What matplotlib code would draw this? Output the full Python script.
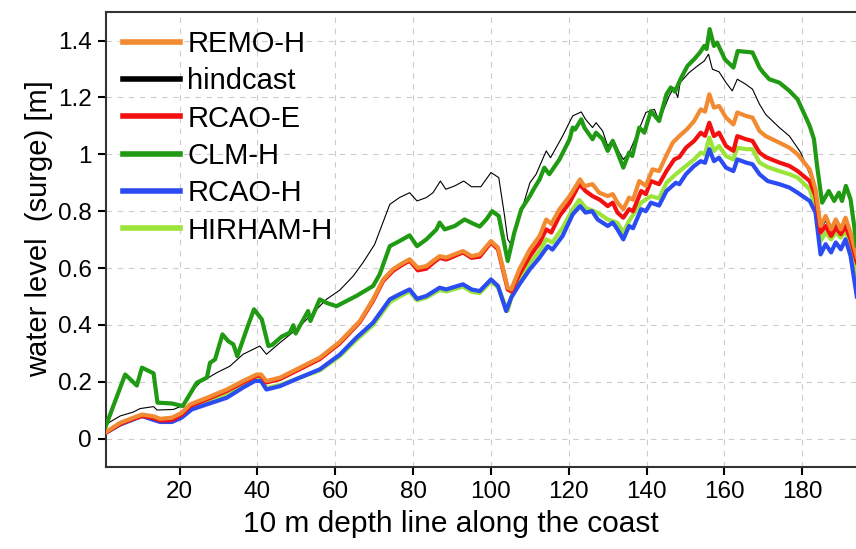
import matplotlib
matplotlib.use("Agg")
import matplotlib.pyplot as plt
from matplotlib.lines import Line2D

plt.rcParams['font.family'] = ['Liberation Sans', 'DejaVu Sans']

# posición a lo largo de la línea de 10 m y nivel del agua (surge) en m
x_remo = [1, 4.7, 8.1, 10.3, 13.3, 15, 18, 20.5, 22.7, 27,
          32.1, 36.3, 39.8, 40.9, 42.3, 45.8, 50.9, 56, 61.1, 66.3,
          69.7, 72.3, 74.8, 77, 79.1, 81.2, 83.4, 85.1, 86.8, 88.5,
          92.8, 95, 97.1, 100, 101.8, 104.3, 105.2, 107.3, 110, 112.5,
          114.2, 115.5, 117.6, 120.2, 122.9, 124, 126.1, 127.8, 130, 131.3,
          132.5, 134, 135.5, 136.5, 138.1, 139.8, 141.5, 143.2, 145, 146.7,
          148.4, 150.5, 152.2, 153.9, 155, 156.1, 157.3, 158.6, 160.4, 162.3,
          163.3, 165.5, 167.2, 169, 170.6, 174.1, 176.7, 178.8, 181.9, 183.4,
          184.7, 186, 187.4, 188.6, 189.9, 191.1, 192.4, 194]
y_remo = [0.023, 0.056, 0.074, 0.085, 0.079, 0.07, 0.074, 0.091, 0.121, 0.144,
          0.173, 0.203, 0.226, 0.226, 0.203, 0.215, 0.25, 0.285, 0.34, 0.414,
          0.49, 0.56, 0.596, 0.615, 0.631, 0.601, 0.607, 0.625, 0.642, 0.637,
          0.66, 0.642, 0.648, 0.695, 0.672, 0.531, 0.525, 0.596, 0.666, 0.713,
          0.771, 0.755, 0.807, 0.853, 0.912, 0.888, 0.895, 0.865, 0.853, 0.86,
          0.83, 0.807, 0.848, 0.84, 0.906, 0.889, 0.947, 0.941, 0.994, 1.041,
          1.064, 1.09, 1.117, 1.158, 1.15, 1.211, 1.164, 1.17, 1.129, 1.105,
          1.147, 1.135, 1.129, 1.082, 1.064, 1.041, 1.023, 1.0, 0.947, 0.877,
          0.748, 0.783, 0.736, 0.771, 0.736, 0.777, 0.725, 0.64]

x_hind = [1, 4.7, 8.1, 9.8, 13.3, 14.2, 18.4, 20.5, 22.7, 25.2,
          29.5, 32.9, 36.3, 40.6, 42.3, 45.8, 50, 53.5, 57.7, 61.1,
          64.6, 67.1, 70.1, 71.4, 74, 76.5, 79.1, 81, 83.4, 85.1,
          87, 88.4, 90.7, 93, 95, 97.4, 100, 102, 103.5, 104.3,
          105.2, 106.5, 108.2, 110, 111.6, 114.2, 115.3, 118.4, 121, 123.2,
          124.3, 126.1, 127, 128.7, 130, 131.3, 133, 134, 135.5, 137.7,
          139.8, 142, 143.2, 145.8, 147, 148, 148.6, 150.9, 153.1, 154.8,
          155.9, 156.9, 158.6, 160.4, 162, 163.3, 165.5, 167.2, 169, 170.6,
          174.1, 176.7, 179.6, 181.9, 183.4, 184.7, 186, 187.4, 188.6, 189.9,
          191.1, 192.4, 194]
y_hind = [0.05, 0.08, 0.094, 0.106, 0.113, 0.101, 0.103, 0.115, 0.162, 0.197,
          0.232, 0.255, 0.297, 0.326, 0.297, 0.338, 0.384, 0.431, 0.49, 0.522,
          0.572, 0.619, 0.683, 0.73, 0.824, 0.848, 0.865, 0.836, 0.848, 0.865,
          0.906, 0.877, 0.889, 0.906, 0.886, 0.886, 0.936, 0.918, 0.783, 0.701,
          0.683, 0.76, 0.818, 0.9, 0.93, 1.012, 0.988, 1.064, 1.135, 1.149,
          1.123, 1.094, 1.111, 1.082, 1.029, 1.053, 1.006, 0.982, 1.006, 1.076,
          1.147, 1.158, 1.117, 1.205, 1.235, 1.2, 1.252, 1.287, 1.311, 1.328,
          1.352, 1.299, 1.29, 1.252, 1.223, 1.264, 1.246, 1.229, 1.176, 1.14,
          1.094, 1.064, 1.006, 0.93, 0.865, 0.74, 0.765, 0.725, 0.755, 0.727,
          0.76, 0.71, 0.63]

x_rcaoe = [1, 4.7, 8.1, 10.3, 13.3, 15, 18, 20.5, 22.7, 27,
           32.1, 36.3, 39.8, 40.9, 42.3, 45.8, 50.9, 56, 61.1, 66.3,
           69.7, 72.3, 74.8, 77, 79.1, 81.2, 83.4, 85.1, 86.8, 88.5,
           92.8, 95, 97.1, 100, 101.8, 104.3, 105.2, 107.3, 110, 112.5,
           114.2, 115.5, 117.6, 120.2, 122.7, 124.3, 126.1, 128, 130, 131.3,
           132.5, 134, 135.5, 136.5, 138.6, 139.8, 141.1, 143.2, 145.1, 147.1,
           148.4, 150.1, 152.2, 153.9, 155, 156.1, 157.3, 158.6, 160.4, 162.3,
           163.3, 165.5, 167.2, 169, 170.6, 174.1, 176.7, 178.8, 181.9, 183.4,
           184.7, 186, 187.4, 188.6, 189.9, 191.1, 192.4, 194]
y_rcaoe = [0.021, 0.052, 0.07, 0.08, 0.073, 0.064, 0.066, 0.085, 0.115, 0.139,
           0.168, 0.198, 0.221, 0.221, 0.198, 0.21, 0.245, 0.28, 0.335, 0.41,
           0.485, 0.555, 0.59, 0.61, 0.626, 0.592, 0.598, 0.618, 0.636, 0.63,
           0.655, 0.636, 0.64, 0.69, 0.666, 0.525, 0.518, 0.578, 0.642, 0.689,
           0.736, 0.725, 0.783, 0.83, 0.895, 0.871, 0.853, 0.84, 0.818, 0.83,
           0.795, 0.777, 0.807, 0.8, 0.871, 0.86, 0.906, 0.895, 0.941, 0.982,
           0.99, 1.023, 1.047, 1.076, 1.065, 1.111, 1.064, 1.076, 1.029, 1.012,
           1.064, 1.053, 1.047, 1.006, 0.99, 0.971, 0.959, 0.941, 0.906, 0.853,
           0.725, 0.748, 0.713, 0.742, 0.719, 0.748, 0.701, 0.62]

x_clm = [1, 6, 9, 10.3, 13.3, 14.3, 18, 20.8, 24.4, 27,
         27.8, 29.1, 31, 32.5, 33.8, 34.8, 37.2, 39.1, 41.1, 42.8,
         43.8, 46.2, 48.3, 49.2, 49.8, 53, 53.6, 56, 57.7, 60.3,
         62, 65.4, 69.7, 71.4, 74, 76.5, 79.1, 81, 83.4, 86,
         86.8, 88.1, 90.7, 93.2, 95.3, 97.1, 98.8, 100.3, 102, 104.3,
         106, 107.8, 110, 110.9, 112.5, 113.7, 115, 117.6, 120.2, 121,
         121.6, 123.2, 124, 126.1, 127, 128.7, 130, 131.3, 132.5, 134,
         135.5, 136.3, 138.1, 139.4, 141.1, 143.2, 145.1, 146.2, 147.3, 148.7,
         150.5, 152.2, 153.7, 154.8, 155.4, 156.2, 157.3, 158.1, 160.1, 162.3,
         163.4, 167.2, 169, 169.8, 171.5, 174.1, 176.7, 178.8, 181.9, 183,
         183.8, 185.1, 186.8, 188.2, 189.4, 190.2, 191.2, 192.4, 194]
y_clm = [0.044, 0.226, 0.187, 0.25, 0.23, 0.127, 0.124, 0.115, 0.197, 0.215,
         0.267, 0.279, 0.367, 0.343, 0.332, 0.29, 0.384, 0.455, 0.42, 0.326,
         0.33, 0.359, 0.373, 0.399, 0.37, 0.449, 0.414, 0.49, 0.478, 0.466,
         0.478, 0.502, 0.537, 0.578, 0.677, 0.695, 0.715, 0.677, 0.701, 0.736,
         0.76, 0.736, 0.748, 0.771, 0.757, 0.746, 0.771, 0.80, 0.783, 0.625,
         0.725, 0.807, 0.853, 0.876, 0.912, 0.953, 0.93, 0.982, 1.053, 1.094,
         1.087, 1.123, 1.094, 1.053, 1.076, 1.053, 1.012, 1.047, 1.006, 0.953,
         1.006, 0.994, 1.094, 1.076, 1.152, 1.117, 1.211, 1.235, 1.22, 1.264,
         1.311, 1.334, 1.358, 1.381, 1.37, 1.44, 1.381, 1.393, 1.334, 1.305,
         1.363, 1.358, 1.305, 1.29, 1.264, 1.252, 1.223, 1.193, 1.1, 1.053,
         0.959, 0.83, 0.871, 0.836, 0.865, 0.836, 0.889, 0.842, 0.68]

x_rcaoh = [1, 4.7, 8.1, 10.3, 13.3, 15, 18, 20.5, 23.1, 27,
           32.1, 36.3, 39.3, 40.9, 42.3, 45.8, 50.9, 56, 61.1, 65.4,
           69.7, 74, 76.5, 79.1, 81, 83.4, 86.8, 88.5, 92.8, 95,
           97.1, 100, 101.8, 103.9, 105.2, 107.3, 110, 112.5, 114.6, 115.8,
           118.4, 121, 122.9, 124.3, 126, 127.4, 130, 131.3, 132.5, 134,
           135.5, 136.5, 138.6, 139.8, 141.1, 143.2, 145.1, 147.5, 148.4, 150.1,
           152.2, 153.9, 155, 156.1, 157.3, 158.6, 160.4, 162.3, 163.3, 165.5,
           167.2, 169, 171.1, 174.1, 176.7, 178.8, 181.9, 183.4, 184.7, 186,
           187.4, 188.6, 189.9, 191.1, 192.4, 194]
y_rcaoh = [0.021, 0.05, 0.068, 0.08, 0.066, 0.059, 0.059, 0.074, 0.103, 0.121,
           0.144, 0.18, 0.203, 0.203, 0.173, 0.185, 0.215, 0.244, 0.295, 0.355,
           0.408, 0.49, 0.508, 0.525, 0.492, 0.502, 0.531, 0.525, 0.543, 0.525,
           0.519, 0.56, 0.537, 0.449, 0.496, 0.543, 0.596, 0.637, 0.677, 0.665,
           0.713, 0.789, 0.818, 0.795, 0.8, 0.771, 0.748, 0.76, 0.736, 0.701,
           0.748, 0.74, 0.807, 0.8, 0.83, 0.82, 0.871, 0.9, 0.895, 0.93,
           0.959, 0.976, 0.97, 1.018, 0.976, 0.988, 0.953, 0.941, 0.982, 0.971,
           0.965, 0.93, 0.906, 0.895, 0.883, 0.865, 0.836, 0.795, 0.648, 0.684,
           0.655, 0.69, 0.666, 0.701, 0.643, 0.5]

x_hirham = [1, 4.7, 8.1, 10.3, 13.3, 15, 18, 20.5, 23.1, 27,
            32.1, 36.3, 39.3, 40.9, 42.3, 45.8, 50.9, 56, 61.1, 65.4,
            69.7, 74, 76.5, 79.1, 81, 83.4, 86.8, 88.5, 92.8, 95,
            97.1, 100, 101.8, 104.3, 105.5, 107.3, 110, 112.5, 114.2, 115.8,
            118.4, 121, 122.7, 124.3, 127.4, 130, 132.5, 134, 135.5, 138.6,
            141.1, 143.2, 145.1, 147.5, 150.1, 152.2, 153.9, 155, 156.1, 157.3,
            158.6, 160.4, 162.3, 163.3, 165.5, 167.2, 169, 171.1, 174.1, 176.7,
            178.8, 181.9, 183.4, 184.7, 186, 187.4, 188.6, 189.9, 191.1, 192.4,
            194]
y_hirham = [0.022, 0.052, 0.07, 0.082, 0.07, 0.063, 0.064, 0.08, 0.11, 0.13,
            0.152, 0.186, 0.207, 0.206, 0.178, 0.189, 0.215, 0.24, 0.29, 0.347,
            0.4, 0.48, 0.5, 0.518, 0.487, 0.496, 0.523, 0.518, 0.535, 0.517,
            0.512, 0.553, 0.532, 0.45, 0.51, 0.555, 0.619, 0.66, 0.701, 0.69,
            0.742, 0.807, 0.84, 0.812, 0.795, 0.771, 0.759, 0.725, 0.766, 0.83,
            0.853, 0.845, 0.9, 0.93, 0.959, 0.982, 1.006, 1.0, 1.059, 1.012,
            1.029, 0.994, 0.982, 1.023, 1.018, 1.018, 0.971, 0.955, 0.941, 0.93,
            0.918, 0.877, 0.812, 0.695, 0.725, 0.701, 0.725, 0.707, 0.73, 0.684,
            0.58]

yticks = [0, 0.2, 0.4, 0.6, 0.8, 1.0, 1.2, 1.4]
ytick_labels = ['0', '0.2', '0.4', '0.6', '0.8', '1', '1.2', '1.4']
xticks = [20, 40, 60, 80, 100, 120, 140, 160, 180]

fig = plt.figure(figsize=(8.56, 5.49), dpi=100)
ax = fig.add_axes([0.1235, 0.149, 0.8765, 0.829])

lw = 3.0
ax.plot(x_hind, y_hind, color='black', lw=0.8, zorder=2)
ax.plot(x_hirham, y_hirham, color='#9be43a', lw=lw, zorder=3, solid_joinstyle='round')
ax.plot(x_rcaoh, y_rcaoh, color='#2a4cf2', lw=lw, zorder=4, solid_joinstyle='round')
ax.plot(x_rcaoe, y_rcaoe, color='#f21010', lw=lw, zorder=5, solid_joinstyle='round')
ax.plot(x_remo, y_remo, color='#f28a32', lw=lw, zorder=6, solid_joinstyle='round')
ax.plot(x_clm, y_clm, color='#1f9a12', lw=lw, zorder=7, solid_joinstyle='round')

# leyenda en el orden del original
handles = [Line2D([], [], color='#f28a32', lw=4),
           Line2D([], [], color='black', lw=4),
           Line2D([], [], color='#f21010', lw=4),
           Line2D([], [], color='#1f9a12', lw=4),
           Line2D([], [], color='#2a4cf2', lw=4),
           Line2D([], [], color='#9be43a', lw=4)]
labels = ['REMO-H', 'hindcast', 'RCAO-E', 'CLM-H', 'RCAO-H', 'HIRHAM-H']
ax.legend(handles, labels, loc='upper left', bbox_to_anchor=(123 / 856, 1 - 30 / 549),
          bbox_transform=fig.transFigure, frameon=False, fontsize=21,
          handlelength=1.95, handletextpad=0.25, labelspacing=0.32,
          borderpad=0, borderaxespad=0)

ax.set_xlim(1, 193.8)
ax.set_ylim(-0.1, 1.5)
ax.set_xticks(xticks)
ax.set_yticks(yticks)
ax.set_yticklabels(ytick_labels)
ax.tick_params(direction='out', length=6, width=1.5, labelsize=17.5, pad=4)
ax.grid(True, linestyle=(0, (5, 5)), linewidth=0.8, color='#cccccc')
ax.set_axisbelow(True)
for s in ['left', 'bottom', 'top']:
    ax.spines[s].set_linewidth(1.5)
    ax.spines[s].set_color('#333333')
ax.spines['right'].set_visible(False)

ax.set_xlabel('10 m depth line along the coast', fontsize=21.5)
ax.set_ylabel('water level  (surge) [m]', fontsize=21)
ax.xaxis.set_label_coords(0.46, -0.095)
ax.yaxis.set_label_coords(-0.07, 0.525)

fig.savefig('out.png', dpi=100)
